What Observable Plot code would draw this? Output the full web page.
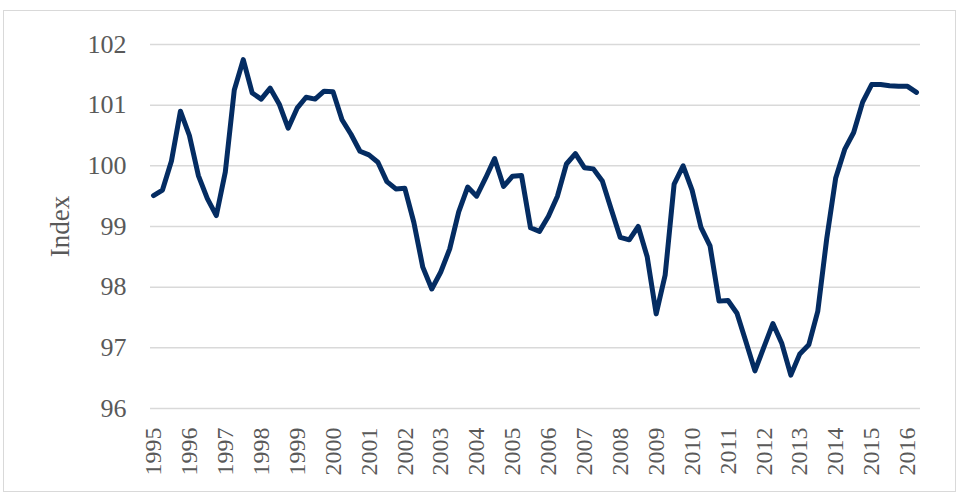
<!DOCTYPE html>
<html><head><meta charset="utf-8">
<script src="https://cdn.jsdelivr.net/npm/d3@7"></script>
<script src="https://cdn.jsdelivr.net/npm/@observablehq/plot@0.6"></script>
<style>
body{margin:0;background:#fff;}
#wrap{position:relative;width:964px;height:496px;overflow:hidden;}
#border{position:absolute;left:3px;top:10px;width:953px;height:482px;border:1px solid #d9d9d9;box-sizing:border-box;pointer-events:none}
</style></head><body><div id="wrap"><div id="chart"></div><div id="border"></div></div>
<script>
// Quarterly index, 1995 Q1 – 2016 Q2
const startYear = 1995;
const yearLabels = [1995,1996,1997,1998,1999,2000,2001,2002,2003,2004,2005,2006,2007,2008,2009,2010,2011,2012,2013,2014,2015,2016];
const yTickValues = [96,97,98,99,100,101,102];
const indexValues = [
  99.51, 99.60, 100.08, 100.90, 100.50, 99.84, 99.46, 99.18,
  99.90, 101.25, 101.75, 101.20, 101.10, 101.28, 101.02, 100.62,
  100.95, 101.13, 101.10, 101.23, 101.22, 100.76, 100.52, 100.24,
  100.18, 100.06, 99.74, 99.62, 99.63, 99.07, 98.33, 97.97,
  98.25, 98.63, 99.24, 99.65, 99.50, 99.80, 100.12, 99.66,
  99.83, 99.84, 98.98, 98.92, 99.17, 99.50, 100.03, 100.20,
  99.97, 99.95, 99.75, 99.28, 98.82, 98.78, 99.00, 98.50,
  97.56, 98.20, 99.70, 100.00, 99.60, 98.98, 98.68, 97.77,
  97.78, 97.57, 97.10, 96.62, 97.01, 97.40, 97.07, 96.55,
  96.90, 97.05, 97.60, 98.80, 99.80, 100.27, 100.55, 101.05,
  101.34, 101.34, 101.32, 101.31, 101.31, 101.21
];
const data = indexValues.map((v, i) => ({t: startYear + i / 4, v}));

const chart = Plot.plot({
  width: 964, height: 496,
  marginLeft: 150, marginRight: 44, marginTop: 44, marginBottom: 88,
  insetLeft: 3, insetRight: 4,
  style: {fontFamily: "'Liberation Serif', 'Times New Roman', serif", background: "transparent"},
  x: {domain: [1995, 2016.25], axis: null},
  y: {domain: [96, 102], axis: null},
  marks: [
    Plot.ruleY(yTickValues, {stroke: "#d9d9d9", strokeWidth: 1.5}),
    Plot.axisY(yTickValues, {tickSize: 0, tickPadding: 24, fontSize: 26, color: "#595959", label: null, tickFormat: d => String(d)}),
    Plot.axisX(yearLabels, {tickSize: 0, tickRotate: -90, tickPadding: 19, fontSize: 24, color: "#595959", label: null, tickFormat: d => String(d)}),
    Plot.line(data, {x: "t", y: "v", stroke: "#042c62", strokeWidth: 5, strokeLinejoin: "round", strokeLinecap: "round"}),
    Plot.text(["Index"], {frameAnchor: "left", textAnchor: "middle", dx: -90, rotate: -90, fontSize: 27, fill: "#595959"})
  ]
});
document.getElementById("chart").appendChild(chart);
</script>
</body></html>
